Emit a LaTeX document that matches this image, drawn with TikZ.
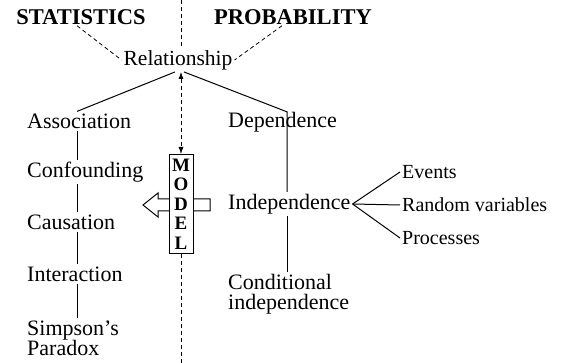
\documentclass[tikz,border=0pt]{standalone}
\usepackage{fontspec}
\setmainfont{Liberation Serif}
\usepackage{tikz}
\usetikzlibrary{positioning, arrows.meta}

\begin{document}
\begin{tikzpicture}[
  x=1pt, y=-1pt,
  title/.style={font=\fontsize{22.5}{24}\selectfont\bfseries, inner sep=1pt},
  item/.style={font=\fontsize{22}{20}\selectfont, inner sep=2pt, anchor=west,
               align=left},
  subitem/.style={font=\fontsize{20}{20}\selectfont, inner sep=2pt,
                  anchor=west},
  link/.style={line width=1pt},
  divider/.style={line width=0.8pt, dash pattern=on 4pt off 3pt},
]
  \useasboundingbox (0,0) rectangle (563,363);

  % Headings
  \node[title] (stat) at (81, 17) {STATISTICS};
  \node[title] (prob) at (293, 17) {PROBABILITY};
  \node[font=\fontsize{21.5}{22}\selectfont, inner sep=2pt] (rel)
    at (178, 60) {Relationship};

  % Statistics column
  \coordinate (lspine) at (77, 0);
  \node[item] (assoc) at (25, 121) {Association};
  \node[item] (conf)  at (25, 172) {Confounding};
  \node[item] (caus)  at (25, 222) {Causation};
  \node[item] (inter) at (25, 274) {Interaction};
  \node[item] (simp)  at (25, 338) {Simpson's\\Paradox};

  % Probability column
  \coordinate (rspine) at (287, 0);
  \node[item] (dep)   at (226, 122) {Dependence};
  \node[item] (indep) at (226, 204) {Independence};
  \node[item] (cond)  at (226, 294) {Conditional\\independence};
  \node[subitem] (events) at (400, 172) {Events};
  \node[subitem] (rv)     at (400, 205) {Random variables};
  \node[subitem] (proc)   at (400, 238) {Processes};

  % Model box with arrow behind it
  \draw[line width=1pt, fill=white]
    (143, 205) -- (158, 193) -- (158, 199) -- (210, 199) -- (210, 211)
    -- (158, 211) -- (158, 217) -- cycle;
  \node[draw, line width=1pt, fill=white, minimum width=24pt,
        minimum height=99pt, inner sep=0pt, align=center,
        font=\fontsize{19}{19.5}\selectfont\bfseries] (model) at (181, 204)
    {M\\O\\D\\E\\L};

  % Dividing line
  \draw[divider] (model.north |- 0,0) -- (rel.north -| model.north);
  \draw[divider, {Latex[length=7pt,width=5pt]}-{Latex[length=7pt,width=5pt]}]
    (rel.south -| model.north) -- (model.north);
  \draw[divider] (model.south) -- (model.south |- 0,363);

  % Dashed links from headings
  \draw[divider] ([xshift=-4pt]stat.south) -- (rel.west);
  \draw[divider] ([xshift=-11pt]prob.south) -- (rel.east);

  % Statistics links
  \draw[link] ([xshift=-3pt]rel.south) -- (assoc.north -| lspine);
  \draw[link] (assoc.south -| lspine) -- (conf.north -| lspine);
  \draw[link] (conf.south -| lspine) -- (caus.north -| lspine);
  \draw[link] (caus.south -| lspine) -- (inter.north -| lspine);
  \draw[link] (inter.south -| lspine) -- (simp.north -| lspine);

  % Probability links
  \draw[link] ([xshift=6pt]rel.south) -- ([yshift=-2pt]dep.north -| rspine)
    -- (indep.north -| rspine);
  \draw[link] (indep.south -| rspine) -- (cond.north -| rspine);
  \draw[link] (indep.east) -- (events.west);
  \draw[link] (indep.east) -- (rv.west);
  \draw[link] (indep.east) -- (proc.west);

\end{tikzpicture}
\end{document}
